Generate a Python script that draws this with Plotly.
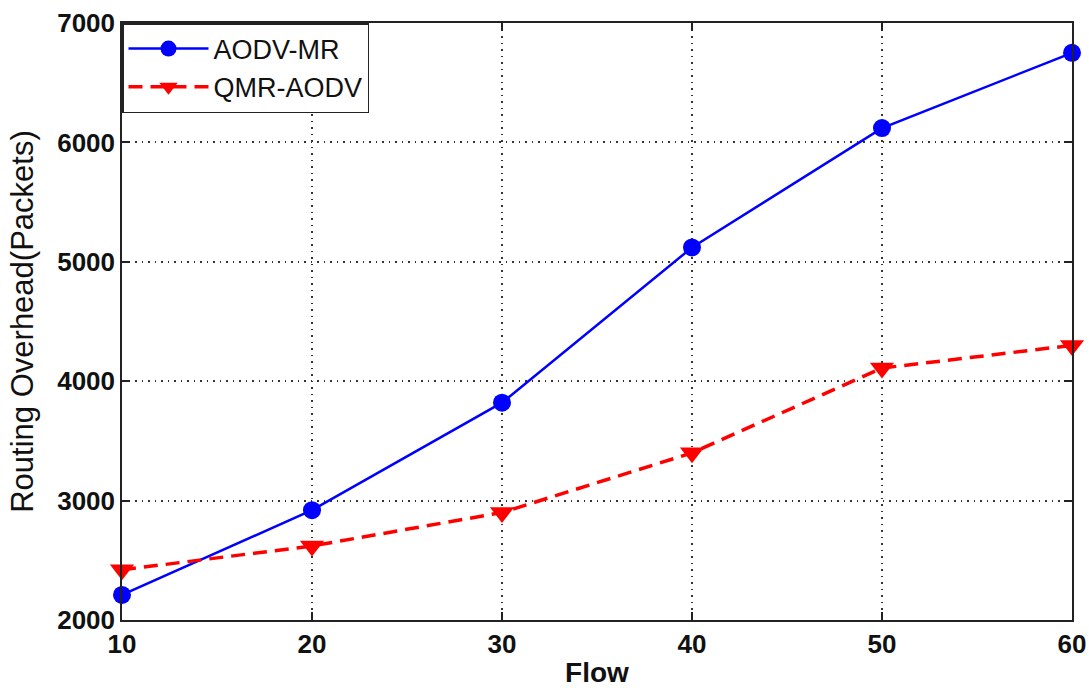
import plotly.graph_objects as go

flow = [10, 20, 30, 40, 50, 60]
aodv_mr = [2210, 2920, 3820, 5120, 6120, 6750]
qmr_aodv = [2420, 2620, 2900, 3400, 4110, 4300]
y_ticks = [2000, 3000, 4000, 5000, 6000, 7000]

FAM = "Liberation Sans, Arial, sans-serif"

fig = go.Figure()
fig.add_trace(go.Scatter(
    x=flow, y=aodv_mr, name="AODV-MR", mode="lines+markers",
    line=dict(color="#0000ff", width=2.5),
    marker=dict(symbol="circle", size=18, color="#0000ff"),
    cliponaxis=False,
))
fig.add_trace(go.Scatter(
    x=flow, y=qmr_aodv, name="QMR-AODV", mode="lines+markers",
    line=dict(color="#ff0000", width=3.5, dash="14px,8px"),
    marker=dict(symbol="triangle-down", size=21, color="#ff0000"),
    cliponaxis=False,
))

fig.update_layout(
    width=1089, height=691,
    margin=dict(l=122, r=17, t=23, b=71, autoexpand=False),
    paper_bgcolor="white", plot_bgcolor="white",
    font=dict(family=FAM, size=26, color="#111111"),
    showlegend=True,
    legend=dict(x=0, y=1, xanchor="left", yanchor="top",
                bordercolor="#222222", borderwidth=1.5, bgcolor="white",
                font=dict(family=FAM, size=27, color="#111111"),
                itemwidth=80, tracegroupgap=0),
)
fig.update_xaxes(
    range=[10, 60], tickvals=flow, ticktext=[f"<b>{v}</b>" for v in flow],
    showline=True, linecolor="#222222", linewidth=1.5, mirror="ticks",
    ticks="inside", ticklen=8, tickcolor="#222222", tickwidth=1.5,
    showgrid=True, gridcolor="#333333", griddash="1.5px,5px", gridwidth=1.5,
    zeroline=False,
    title=dict(text="<b>Flow</b>", font=dict(size=28), standoff=4),
    tickfont=dict(size=26),
)
fig.update_yaxes(
    range=[2000, 7000], tickvals=y_ticks, ticktext=[f"<b>{v}</b>" for v in y_ticks],
    showline=True, linecolor="#222222", linewidth=1.5, mirror="ticks",
    ticks="inside", ticklen=8, tickcolor="#222222", tickwidth=1.5,
    showgrid=True, gridcolor="#333333", griddash="1.5px,5px", gridwidth=1.5,
    zeroline=False,
    title=dict(text="Routing Overhead(Packets)", font=dict(size=31), standoff=14),
    tickfont=dict(size=26),
)
fig.write_html("out.html", config={"displayModeBar": False},
               post_script="document.body.style.margin='0';")
